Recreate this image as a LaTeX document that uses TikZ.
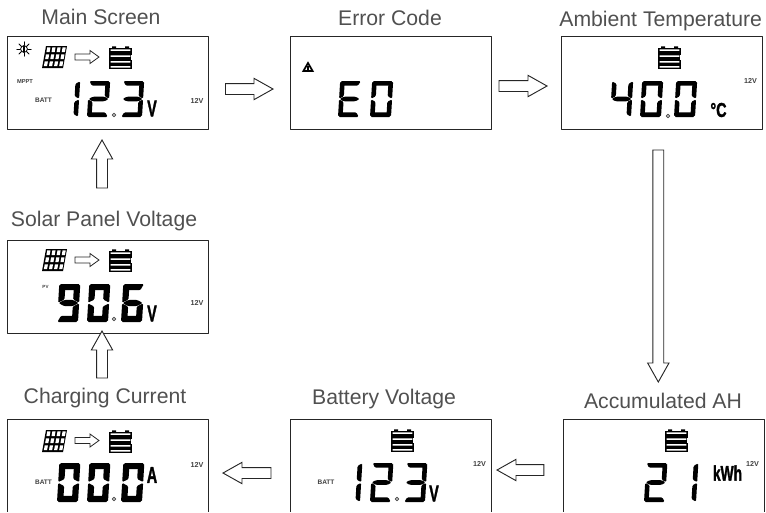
\documentclass[tikz,border=0pt]{standalone}
\usepackage{fontspec}
\setmainfont{Liberation Sans}
\newfontfamily\unitfont[BoldFeatures={FakeBold=2}]{Liberation Sans}
\usetikzlibrary{calc}
\definecolor{titlegray}{HTML}{505050}
\tikzset{
  screen/.style={draw=black!85,line width=0.75pt,minimum width=150.75pt,minimum height=69.75pt,inner sep=0pt,outer sep=0pt},
  lowscreen/.style={screen,minimum height=72pt},
  title/.style={text=titlegray,font=\fontsize{15.9}{18}\selectfont,inner sep=0pt},
  tag/.style={text=black!75,font=\bfseries\fontsize{5.4}{6}\selectfont,inner sep=0pt},
  unit/.style={text=black,font=\unitfont\bfseries\fontsize{17}{18}\selectfont,inner sep=0pt},
  blockline/.style={draw=black!85,line width=0.7pt,fill=white,line join=miter},
  lcdseg/.style={fill=black,rounded corners=0.9pt}
}
% seven segments, drawn from the lower left corner of a digit
\def\lw{21} \def\lh{36} \def\lt{4.6} \def\lc{2.4} \def\lg{0.4}
\newcommand{\lcdsega}{\fill[lcdseg] (\lg,-\lh)--(\lw-\lg,-\lh)--(\lw-\lc-\lg,-\lh+\lt)--(\lc+\lg,-\lh+\lt)--cycle;}
\newcommand{\lcdsegb}{\fill[lcdseg] (\lw,-\lh+\lg)--(\lw-\lt,-\lh+\lc+\lg)--(\lw-\lt,-\lh/2-\lt/2-\lg)--(\lw,-\lh/2-\lg)--cycle;}
\newcommand{\lcdsegc}{\fill[lcdseg] (\lw,-\lg)--(\lw-\lt,-\lc-\lg)--(\lw-\lt,-\lh/2+\lt/2+\lg)--(\lw,-\lh/2+\lg)--cycle;}
\newcommand{\lcdsegd}{\fill[lcdseg] (\lg,0)--(\lw-\lg,0)--(\lw-\lc-\lg,-\lt)--(\lc+\lg,-\lt)--cycle;}
\newcommand{\lcdsege}{\fill[lcdseg] (0,-\lg)--(\lt,-\lc-\lg)--(\lt,-\lh/2+\lt/2+\lg)--(0,-\lh/2+\lg)--cycle;}
\newcommand{\lcdsegf}{\fill[lcdseg] (0,-\lh+\lg)--(\lt,-\lh+\lc+\lg)--(\lt,-\lh/2-\lt/2-\lg)--(0,-\lh/2-\lg)--cycle;}
\newcommand{\lcdsegg}{\fill[lcdseg] (\lg,-\lh/2)--(\lt,-\lh/2-\lt/2)--(\lw-\lt,-\lh/2-\lt/2)--(\lw-\lg,-\lh/2)--(\lw-\lt,-\lh/2+\lt/2)--(\lt,-\lh/2+\lt/2)--cycle;}
\newcommand{\lcdnum}[3]{\begin{scope}[shift={(#1,#2)},xslant=0.06]
  \foreach \s in {#3} {\csname lcdseg\s\endcsname}
\end{scope}}
\newcommand{\lcddot}[2]{\draw[black!70,line width=0.7pt] (#1,#2) circle (1.8);}
% icons, from their upper left corner
\newcommand{\sunicon}[2]{\begin{scope}[shift={(#1,#2)}]
  \foreach \a in {0,45,...,315} \draw[line width=0.7pt] (\a:3.8) -- (\a:7.2);
  \draw[line width=0.6pt] (0,0) circle (3.4);
  \draw[line width=0.9pt] (0,-3) -- (0,3);
\end{scope}}
\newcommand{\panelicon}[2]{\begin{scope}[shift={(#1+4,#2)},xslant=0.18]
  \fill[black] (0,0) rectangle (21,22);
  \foreach \c in {0,5.1,10.2,15.3} \foreach \r in {0,7,14}
    \fill[white] (\c+1.5,\r+1.4) rectangle (\c+4.7,\r+6);
\end{scope}}
\newcommand{\flowicon}[2]{\begin{scope}[shift={(#1,#2)}]
  \draw[blockline,line width=0.6pt] (0,-3)--(15,-3)--(15,-6.5)--(24,0)--(15,6.5)--(15,3)--(0,3)--cycle;
\end{scope}}
\newcommand{\batticon}[2]{\begin{scope}[shift={(#1,#2)}]
  \fill[black] (0,1.5) rectangle (23,23);
  \fill[black] (3,0.3) rectangle (7,2) (16,0.3) rectangle (20,2);
  \fill[white] (1.6,3.4) rectangle (21.4,4.8) (1.6,9.4) rectangle (21.4,10.8)
               (1.6,15.2) rectangle (21.4,16.6) (1.6,20.2) rectangle (21.4,21.5);
  \fill[white] (21.7,9) rectangle (23.2,14);
\end{scope}}
\newcommand{\warnicon}[2]{\begin{scope}[shift={(#1,#2)}]
  \draw[line width=1.3pt,line join=miter] (-4.6,4)--(0,-4)--(4.6,4)--cycle;
  \fill (-0.7,-1.5) rectangle (0.7,3);
\end{scope}}
% hollow block arrow between two named points
\newcommand{\blockarrow}[2]{
  \coordinate (neck) at ($(#2)!14.25pt!(#1)$);
  \draw[blockline] ($(#1)!4.1pt!90:(#2)$) -- ($(neck)!4.1pt!90:(#2)$) -- ($(neck)!8pt!90:(#2)$) -- (#2)
    -- ($(neck)!8pt!-90:(#2)$) -- ($(neck)!4.1pt!-90:(#2)$) -- ($(#1)!4.1pt!-90:(#2)$) -- cycle;
}
\begin{document}
\begin{tikzpicture}[x=0.75pt,y=-0.75pt,line join=round,line cap=round]
        \useasboundingbox (0,0) rectangle (766,512);
        \clip (0,0) rectangle (766,511);
        % screens
        \node[screen] (main) at (108,82.5) {};
        \node[screen] (error) at (390.5,82.5) {};
        \node[screen] (ambient) at (661.5,82.5) {};
        \node[screen] (solar) at (108,286.5) {};
        \node[lowscreen] (charging) at (108,467) {};
        \node[lowscreen] (battery) at (390.5,467) {};
        \node[lowscreen] (total) at (664,467) {};
        % titles
        \node[title] (tmain) at (101,17) {Main Screen};
        \node[title] (terror) at (390,18) {Error Code};
        \node[title] (tambient) at (660.7,21) {Ambient Temperature};
        \node[title] (tsolar) at (104,221) {Solar Panel Voltage};
        \node[title] (tcharging) at (105,398) {Charging Current};
        \node[title] (tbattery) at (384,399) {Battery Voltage};
        \node[title] (ttotal) at (663,401) {Accumulated AH};
        % arrows
        \coordinate (a1) at ($(main.east)+(17,6.5)$);
        \coordinate (a2) at ($(error.west)+(-17,6.5)$);
        \blockarrow{a1}{a2}
        \coordinate (b1) at ($(error.east)+(8,3.5)$);
        \coordinate (b2) at ($(ambient.west)+(-14,3.5)$);
        \blockarrow{b1}{b2}
        \coordinate (c1) at ($(ambient.south)+(-3.2,21)$);
        \coordinate (c2) at ($(total.north)+(-5.7,-37)$);
        \blockarrow{c1}{c2}
        \coordinate (d1) at ($(total.west)+(-19.7,3)$);
        \coordinate (d2) at ($(battery.east)+(6,3)$);
        \blockarrow{d1}{d2}
        \coordinate (e1) at ($(battery.west)+(-19,6)$);
        \coordinate (e2) at ($(charging.east)+(14.5,6)$);
        \blockarrow{e1}{e2}
        \coordinate (f1) at ($(charging.north)+(-6,-41)$);
        \coordinate (f2) at ($(solar.south)+(-6,-2)$);
        \blockarrow{f1}{f2}
        \coordinate (g1) at ($(solar.north)+(-6,-52)$);
        \coordinate (g2) at ($(main.south)+(-6,11)$);
        \blockarrow{g1}{g2}
        % main screen
        \sunicon{24}{49} \panelicon{42}{46} \flowicon{75}{57} \batticon{109}{46}
        \lcdnum{57}{117}{b,c} \lcdnum{87}{117}{a,b,g,e,d} \lcdnum{121}{117}{a,b,g,c,d}
        \lcddot{114}{115}
        \node[tag,font=\bfseries\fontsize{4.3}{5}\selectfont] (lmppt) at (25,81.5) {MPPT};
        \node[tag,font=\bfseries\fontsize{4.9}{5}\selectfont] (lbatt) at (43.5,100) {BATT};
        \node[tag] (lmain) at (197,100.5) {12V};
        \node[unit] (umain) at (152,108.5) {\scalebox{.63}[1]{V}};
        % error screen
        \warnicon{308}{67}
        \lcdnum{338}{117}{a,d,e,f,g} \lcdnum{370}{117}{a,b,c,d,e,f}
        % ambient screen
        \batticon{658}{46}
        \lcdnum{610}{117}{b,c,f,g} \lcdnum{640}{117}{a,b,c,d,e,f} \lcdnum{674}{117}{a,b,c,d,e,f}
        \lcddot{668}{116}
        \node[tag] (lambient) at (750.5,80.5) {12V};
        \node[unit,font=\unitfont\bfseries\fontsize{15}{15}\selectfont] (uambient) at (718.5,110) {\scalebox{.72}[1]{\textdegree C}};
        % solar screen
        \panelicon{42}{249} \flowicon{75}{260} \batticon{109}{249}
        \begingroup \def\lt{6.2} \def\lh{38} \def\lc{3.2}
        \lcdnum{57}{322}{a,b,c,d,f,g} \lcdnum{87}{322}{a,b,c,d,e,f} \lcdnum{121}{322}{a,c,d,e,f,g}
        \endgroup
        \lcddot{114}{319}
        \node[tag,font=\bfseries\fontsize{3.4}{4}\selectfont] (lpv) at (45.5,287) {PV};
        \node[tag] (lsolar) at (197,303) {12V};
        \node[unit] (usolar) at (152,313.5) {\scalebox{.63}[1]{V}};
        % charging screen
        \panelicon{42}{430} \flowicon{75}{440.5} \batticon{109}{430}
        \begingroup \def\lt{6.2} \def\lh{39} \def\lc{3.2}
        \lcdnum{57}{502}{a,b,c,d,e,f} \lcdnum{87}{502}{a,b,c,d,e,f} \lcdnum{121}{502}{a,b,c,d,e,f}
        \endgroup
        \lcddot{114}{499}
        \node[tag,font=\bfseries\fontsize{4.9}{5}\selectfont] (lcbatt) at (43.5,482) {BATT};
        \node[tag] (lcharging) at (197,464.5) {12V};
        \node[unit] (ucharging) at (152,475) {\scalebox{.63}[1]{A}};
        % battery screen
        \batticon{391}{429}
        \begingroup \def\lh{39}
        \lcdnum{339}{502}{b,c} \lcdnum{370}{502}{a,b,g,e,d} \lcdnum{404}{502}{a,b,g,c,d}
        \endgroup
        \lcddot{397}{499}
        \node[tag,font=\bfseries\fontsize{4.9}{5}\selectfont] (lbbatt) at (326,482) {BATT};
        \node[tag] (lbattery) at (479.5,463.5) {12V};
        \node[unit] (ubattery) at (434,493.5) {\scalebox{.63}[1]{V}};
        % accumulated screen
        \batticon{665}{429}
        \begingroup \def\lh{39}
        \lcdnum{644}{502}{a,b,g,e,d} \lcdnum{675}{502}{b,c}
        \endgroup
        \node[tag] (ltotal) at (752.5,463.5) {12V};
        \node[unit,font=\unitfont\bfseries\fontsize{15.7}{16}\selectfont] (utotal) at (727.5,473) {\scalebox{.66}[1]{kWh}};
\end{tikzpicture}
\end{document}
